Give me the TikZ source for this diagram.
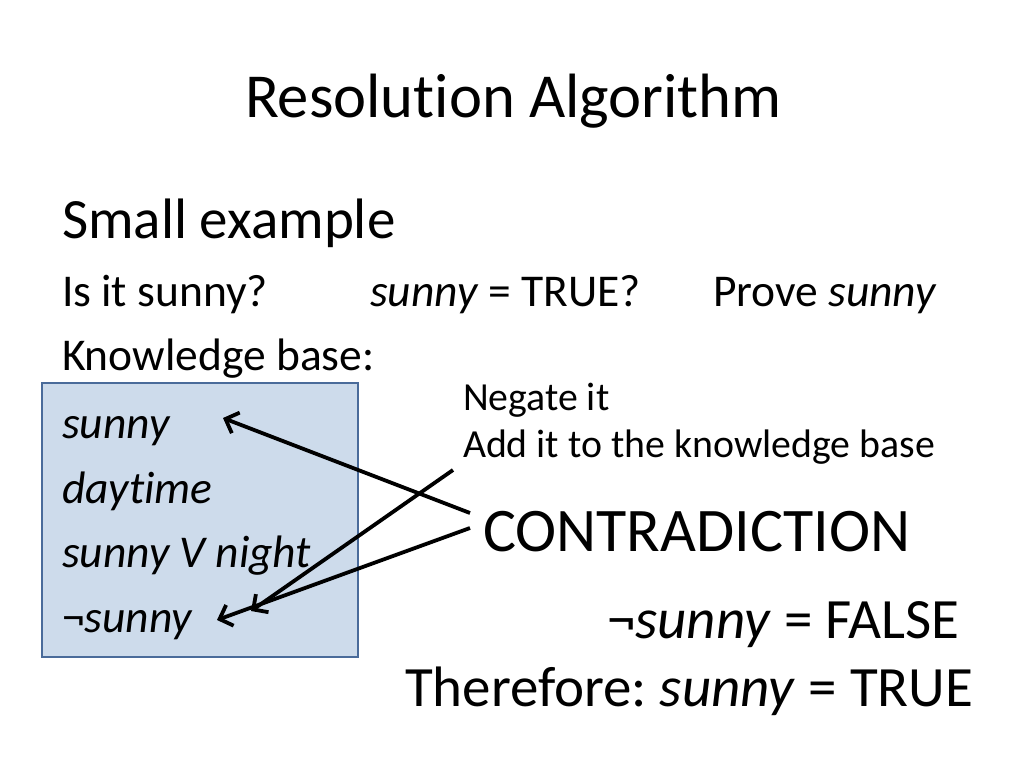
\documentclass[tikz,border=0pt]{standalone}
\usepackage{fontspec}
\setmainfont[Ligatures={NoCommon}]{Carlito}
\usetikzlibrary{arrows.meta}
\definecolor{boxfill}{HTML}{CDDBEB}
\definecolor{boxline}{HTML}{4A6B9A}
\tikzset{
  txt/.style={anchor=base west,inner sep=0pt,outer sep=0pt},
  arr/.style={line width=3.8pt,-{Straight Barb[length=11pt,width=22pt,line width=3.8pt]}},
}
\newcommand{\fsz}[1]{\fontsize{#1}{#1}\selectfont}
\frenchspacing
\begin{document}
\begin{tikzpicture}[x=1pt,y=-1pt]
\useasboundingbox (0,0) rectangle (1024,768);
\node[txt] (title) at (245,117) {\fsz{62.6}Resolution Algorithm};
\node[txt] (small) at (62,238) {\fsz{57}Small example};
\node[txt] (q1) at (62,306) {\fsz{45.5}Is it sunny?};
\node[txt] (q2) at (370,306) {\fsz{45.5}\textit{sunny} = TRUE?};
\node[txt] (q3) at (713,306) {\fsz{45.5}Prove \textit{sunny}};
\node[txt] (kb) at (62,370) {\fsz{45.5}Knowledge base:};
\draw[boxline,fill=boxfill,line width=2pt] (42,383) rectangle (358,657);
\node[txt] (s1) at (62,438) {\fsz{45.5}\textit{sunny}};
\node[txt] (s2) at (62,503) {\fsz{45.5}\textit{daytime}};
\node[txt] (s3) at (62,567) {\fsz{45.5}\textit{sunny V night}};
\node[txt] (s4) at (62,632) {\fsz{45.5}¬\textit{sunny}};
\node[txt] (neg) at (463,410) {\fsz{39.8}Negate it};
\node[txt] (add) at (463,457) {\fsz{39.8}Add it to the knowledge base};
\node[txt] (contra) at (483,551) {\fsz{62}CONTRADICTION};
\node[txt] (false) at (607,638) {\fsz{57}¬\textit{sunny} = FALSE};
\node[txt] (there) at (405,706) {\fsz{57}Therefore: \textit{sunny} = TRUE};
\coordinate (a1s) at (470,513);
\coordinate (a1e) at (223,418);
\coordinate (a2s) at (453,470);
\coordinate (a2e) at (251,611);
\coordinate (a3s) at (470,528);
\coordinate (a3e) at (217,620);
\draw[arr] (a1s) -- (a1e);
\draw[arr] (a2s) -- (a2e);
\draw[arr] (a3s) -- (a3e);
\end{tikzpicture}
\end{document}
